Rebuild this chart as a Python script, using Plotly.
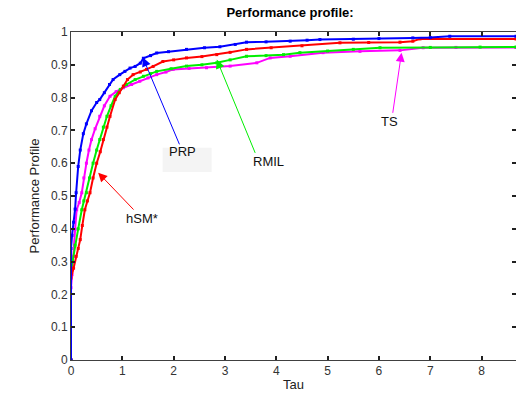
import plotly.graph_objects as go

# ---- data ----
tau_prp = [0, 0, 0.02, 0.05, 0.08, 0.1, 0.14, 0.18, 0.24, 0.3, 0.4, 0.5, 0.56, 0.65, 0.75, 0.82, 0.95,
           1.05, 1.15, 1.25, 1.35, 1.41, 1.55, 1.67, 1.9, 2.25, 2.6, 2.9, 3.2, 3.42, 3.8, 4.27, 4.6,
           4.85, 5.5, 6.0, 6.66, 7.0, 7.38, 8.67]
rho_prp = [0, 0.34, 0.38, 0.42, 0.46, 0.51, 0.59, 0.64, 0.69, 0.72, 0.76, 0.785, 0.794, 0.815, 0.84,
           0.855, 0.87, 0.88, 0.89, 0.895, 0.905, 0.92, 0.928, 0.936, 0.94, 0.947, 0.952, 0.955,
           0.962, 0.969, 0.97, 0.972, 0.975, 0.977, 0.978, 0.98, 0.982, 0.983, 0.987, 0.987]

tau_hsm = [0, 0, 0.05, 0.1, 0.14, 0.18, 0.22, 0.27, 0.32, 0.37, 0.43, 0.5, 0.57, 0.63, 0.7, 0.76,
           0.86, 0.94, 1.02, 1.1, 1.21, 1.35, 1.47, 1.6, 1.79, 2.0, 2.25, 2.55, 2.84, 3.1, 3.42,
           3.9, 4.5, 5.24, 5.8, 6.41, 6.66, 6.8, 8.67]
rho_hsm = [0, 0.25, 0.28, 0.316, 0.34, 0.367, 0.41, 0.458, 0.485, 0.51, 0.555, 0.6, 0.635, 0.672,
           0.71, 0.743, 0.794, 0.815, 0.835, 0.855, 0.87, 0.878, 0.886, 0.895, 0.91, 0.915, 0.921,
           0.925, 0.931, 0.938, 0.947, 0.952, 0.958, 0.967, 0.968, 0.969, 0.972, 0.979, 0.979]

tau_rmil = [0, 0, 0.03, 0.08, 0.14, 0.21, 0.25, 0.3, 0.36, 0.43, 0.5, 0.56, 0.63, 0.7, 0.78, 0.86,
            0.96, 1.08, 1.25, 1.41, 1.55, 1.67, 1.95, 2.25, 2.55, 2.84, 3.1, 3.42, 3.8, 4.14, 4.46,
            5.0, 5.5, 6.02, 7.0, 7.97, 8.67]
rho_rmil = [0, 0.27, 0.3, 0.35, 0.4, 0.458, 0.485, 0.51, 0.555, 0.6, 0.64, 0.672, 0.71, 0.743,
            0.775, 0.804, 0.825, 0.84, 0.855, 0.865, 0.873, 0.88, 0.888, 0.896, 0.9, 0.906, 0.915,
            0.926, 0.928, 0.931, 0.937, 0.942, 0.947, 0.952, 0.953, 0.954, 0.954]

tau_ts = [0, 0, 0.02, 0.05, 0.08, 0.11, 0.16, 0.21, 0.25, 0.3, 0.35, 0.4, 0.47, 0.56, 0.65, 0.76,
          0.88, 1.02, 1.18, 1.34, 1.5, 1.67, 1.85, 1.99, 2.3, 2.64, 3.1, 3.62, 3.88, 4.27, 4.91,
          5.63, 6.41, 6.86, 7.5, 8.67]
rho_ts = [0, 0.22, 0.26, 0.316, 0.398, 0.458, 0.48, 0.51, 0.555, 0.6, 0.64, 0.672, 0.705, 0.743,
          0.775, 0.804, 0.818, 0.83, 0.84, 0.85, 0.86, 0.87, 0.878, 0.886, 0.889, 0.891, 0.896,
          0.906, 0.921, 0.926, 0.937, 0.941, 0.944, 0.952, 0.953, 0.953]

x_ticks = [0, 1, 2, 3, 4, 5, 6, 7, 8]
y_ticks = [0, 0.1, 0.2, 0.3, 0.4, 0.5, 0.6, 0.7, 0.8, 0.9, 1]
y_tick_text = ["0", "0.1", "0.2", "0.3", "0.4", "0.5", "0.6", "0.7", "0.8", "0.9", "1"]

FONT = "Liberation Sans, Arial, sans-serif"

fig = go.Figure()
series = [
    ("TS", tau_ts, rho_ts, "#ff00ff"),
    ("RMIL", tau_rmil, rho_rmil, "#00ee00"),
    ("hSM*", tau_hsm, rho_hsm, "#ff0000"),
    ("PRP", tau_prp, rho_prp, "#0000ff"),
]
for name, xs, ys, col in series:
    fig.add_trace(go.Scatter(
        x=xs, y=ys, name=name, mode="lines+markers",
        line=dict(color=col, width=2),
        marker=dict(color=col, size=3, symbol="square"),
        showlegend=False, cliponaxis=True,
    ))

# light grey box behind the PRP label
fig.add_shape(type="rect", xref="x", yref="y", x0=1.786, x1=2.74, y0=0.573, y1=0.647,
              fillcolor="#f4f4f4", line=dict(width=0), layer="below")

# arrows (tail -> head), drawn as text-less annotations
arrows = [
    # head_x, head_y, tail_x, tail_y, colour
    (1.40, 0.922, 2.125, 0.653, "#0000ff"),
    (2.84, 0.916, 3.60, 0.627, "#00ee00"),
    (6.44, 0.937, 6.265, 0.749, "#ff00ff"),
    (0.53, 0.571, 1.247, 0.454, "#ff0000"),
]
for hx, hy, tx, ty, col in arrows:
    fig.add_annotation(x=hx, y=hy, ax=tx, ay=ty, xref="x", yref="y", axref="x", ayref="y",
                       text="", showarrow=True, arrowhead=2, arrowsize=1.8, arrowwidth=1,
                       arrowcolor=col)

labels = [
    ("PRP", 2.18, 0.636),
    ("RMIL", 3.85, 0.605),
    ("TS", 6.2, 0.727),
    ("hSM*", 1.38, 0.431),
]
for txt, lx, ly in labels:
    fig.add_annotation(x=lx, y=ly, xref="x", yref="y", text=txt, showarrow=False,
                       font=dict(family=FONT, size=13, color="#111111"))

axis_common = dict(
    showgrid=False, zeroline=False, showline=True, linecolor="#404040", linewidth=1,
    mirror="ticks", ticks="inside", ticklen=4, tickcolor="#202020", tickwidth=2,
    tickfont=dict(family=FONT, size=12, color="#333333"), automargin=False,
)
fig.update_xaxes(range=[0, 8.67], tickvals=x_ticks, ticktext=[str(v) for v in x_ticks],
                 title=dict(text="Tau", font=dict(family=FONT, size=13, color="#222222"), standoff=2),
                 **axis_common)
fig.update_yaxes(range=[0, 1], tickvals=y_ticks, ticktext=y_tick_text,
                 title=dict(text="Performance Profile", font=dict(family=FONT, size=13, color="#222222"),
                            standoff=8),
                 **axis_common)

fig.update_layout(
    width=516, height=394,
    margin=dict(l=71, r=0, t=32, b=34),
    paper_bgcolor="white", plot_bgcolor="white",
    title=dict(text="<b>Performance profile:</b>", x=0.562, xanchor="center", y=0.969, yanchor="middle",
               font=dict(family=FONT, size=13, color="#000000"), automargin=False),
)

# remove the default 8px page margin so the figure sits at the window's top-left corner
fig.write_html("out.html",
               config={"displayModeBar": False},
               post_script="document.body.style.margin='0px';document.body.style.overflow='hidden';")
